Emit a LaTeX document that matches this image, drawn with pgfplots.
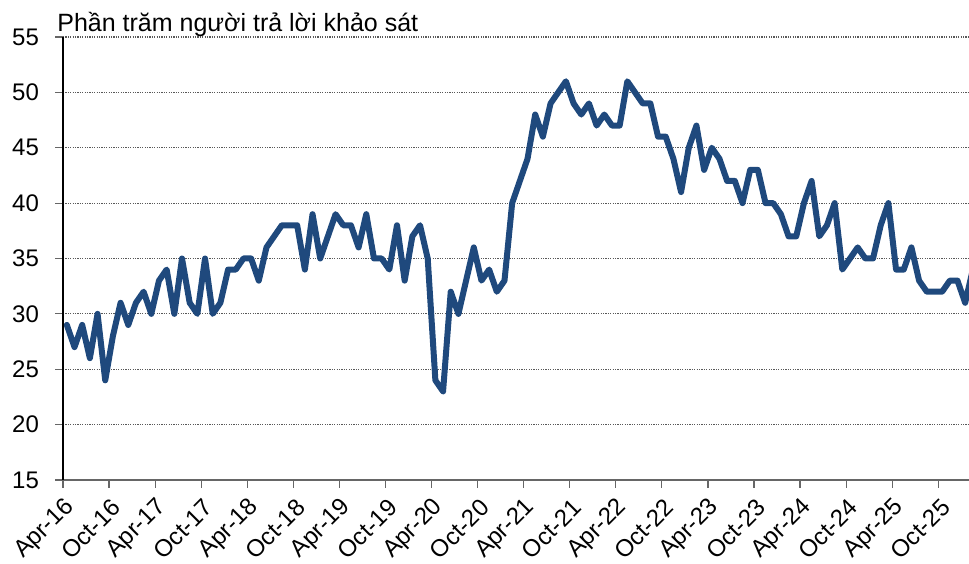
\documentclass[border=0pt]{standalone}
\usepackage{fontspec}
\setmainfont{Liberation Sans}
\usepackage{pgfplots}
\usepackage{pgfplotstable}
\pgfplotsset{compat=1.18}
\definecolor{linec}{RGB}{31,73,125}
\pgfplotstableread{
m v
0 29
1 27
2 29
3 26
4 30
5 24
6 28
7 31
8 29
9 31
10 32
11 30
12 33
13 34
14 30
15 35
16 31
17 30
18 35
19 30
20 31
21 34
22 34
23 35
24 35
25 33
26 36
27 37
28 38
29 38
30 38
31 34
32 39
33 35
34 37
35 39
36 38
37 38
38 36
39 39
40 35
41 35
42 34
43 38
44 33
45 37
46 38
47 35
48 24
49 23
50 32
51 30
52 33
53 36
54 33
55 34
56 32
57 33
58 40
59 42
60 44
61 48
62 46
63 49
64 50
65 51
66 49
67 48
68 49
69 47
70 48
71 47
72 47
73 51
74 50
75 49
76 49
77 46
78 46
79 44
80 41
81 45
82 47
83 43
84 45
85 44
86 42
87 42
88 40
89 43
90 43
91 40
92 40
93 39
94 37
95 37
96 40
97 42
98 37
99 38
100 40
101 34
102 35
103 36
104 35
105 35
106 38
107 40
108 34
109 34
110 36
111 33
112 32
113 32
114 32
115 33
116 33
117 31
118 34
}\datatable
\begin{document}
\begin{tikzpicture}
\begin{axis}[
 scale only axis, width=453pt, height=221.5pt,
 xmin=-0.5, xmax=117.5, ymin=15, ymax=55,
 axis x line*=bottom, axis y line*=left,
 axis line style={-},
 x axis line style={draw=black!60, line width=0.6pt},
 y axis line style={draw=black, line width=0.6pt},
 xtick={-0.5,5.5,...,113.5},
 xticklabels={Apr-16,Oct-16,Apr-17,Oct-17,Apr-18,Oct-18,Apr-19,Oct-19,Apr-20,Oct-20,Apr-21,Oct-21,Apr-22,Oct-22,Apr-23,Oct-23,Apr-24,Oct-24,Apr-25,Oct-25},
 ytick={15,20,...,55},
 ymajorgrids,
 grid style={black!65, line width=0.55pt, dash pattern=on 0.6pt off 0.6pt},
 tick align=outside, major tick length=4pt,
 tick style={black!60, line width=0.6pt},
 /pgf/number format/assume math mode=true,
 ticklabel style={font=\fontsize{12}{14}\selectfont},
 xticklabel style={xshift=4.5pt, yshift=-7pt, rotate=45, anchor=east, inner sep=1pt},
 yticklabel style={xshift=-4.5pt},
]
\addplot[linec, line width=3pt, line join=round, line cap=round] table[x=m,y=v] {\datatable};
\end{axis}
\node[anchor=base west, font=\fontsize{12.5}{14}\selectfont, inner sep=0pt] at ([xshift=-3pt,yshift=2.8pt]current axis.north west) {Phần trăm người trả lời khảo sát};
\pgfresetboundingbox
\path ([xshift=-31.5pt,yshift=-42pt]current axis.south west) rectangle ([yshift=18.5pt]current axis.north east);
\end{tikzpicture}
\end{document}
